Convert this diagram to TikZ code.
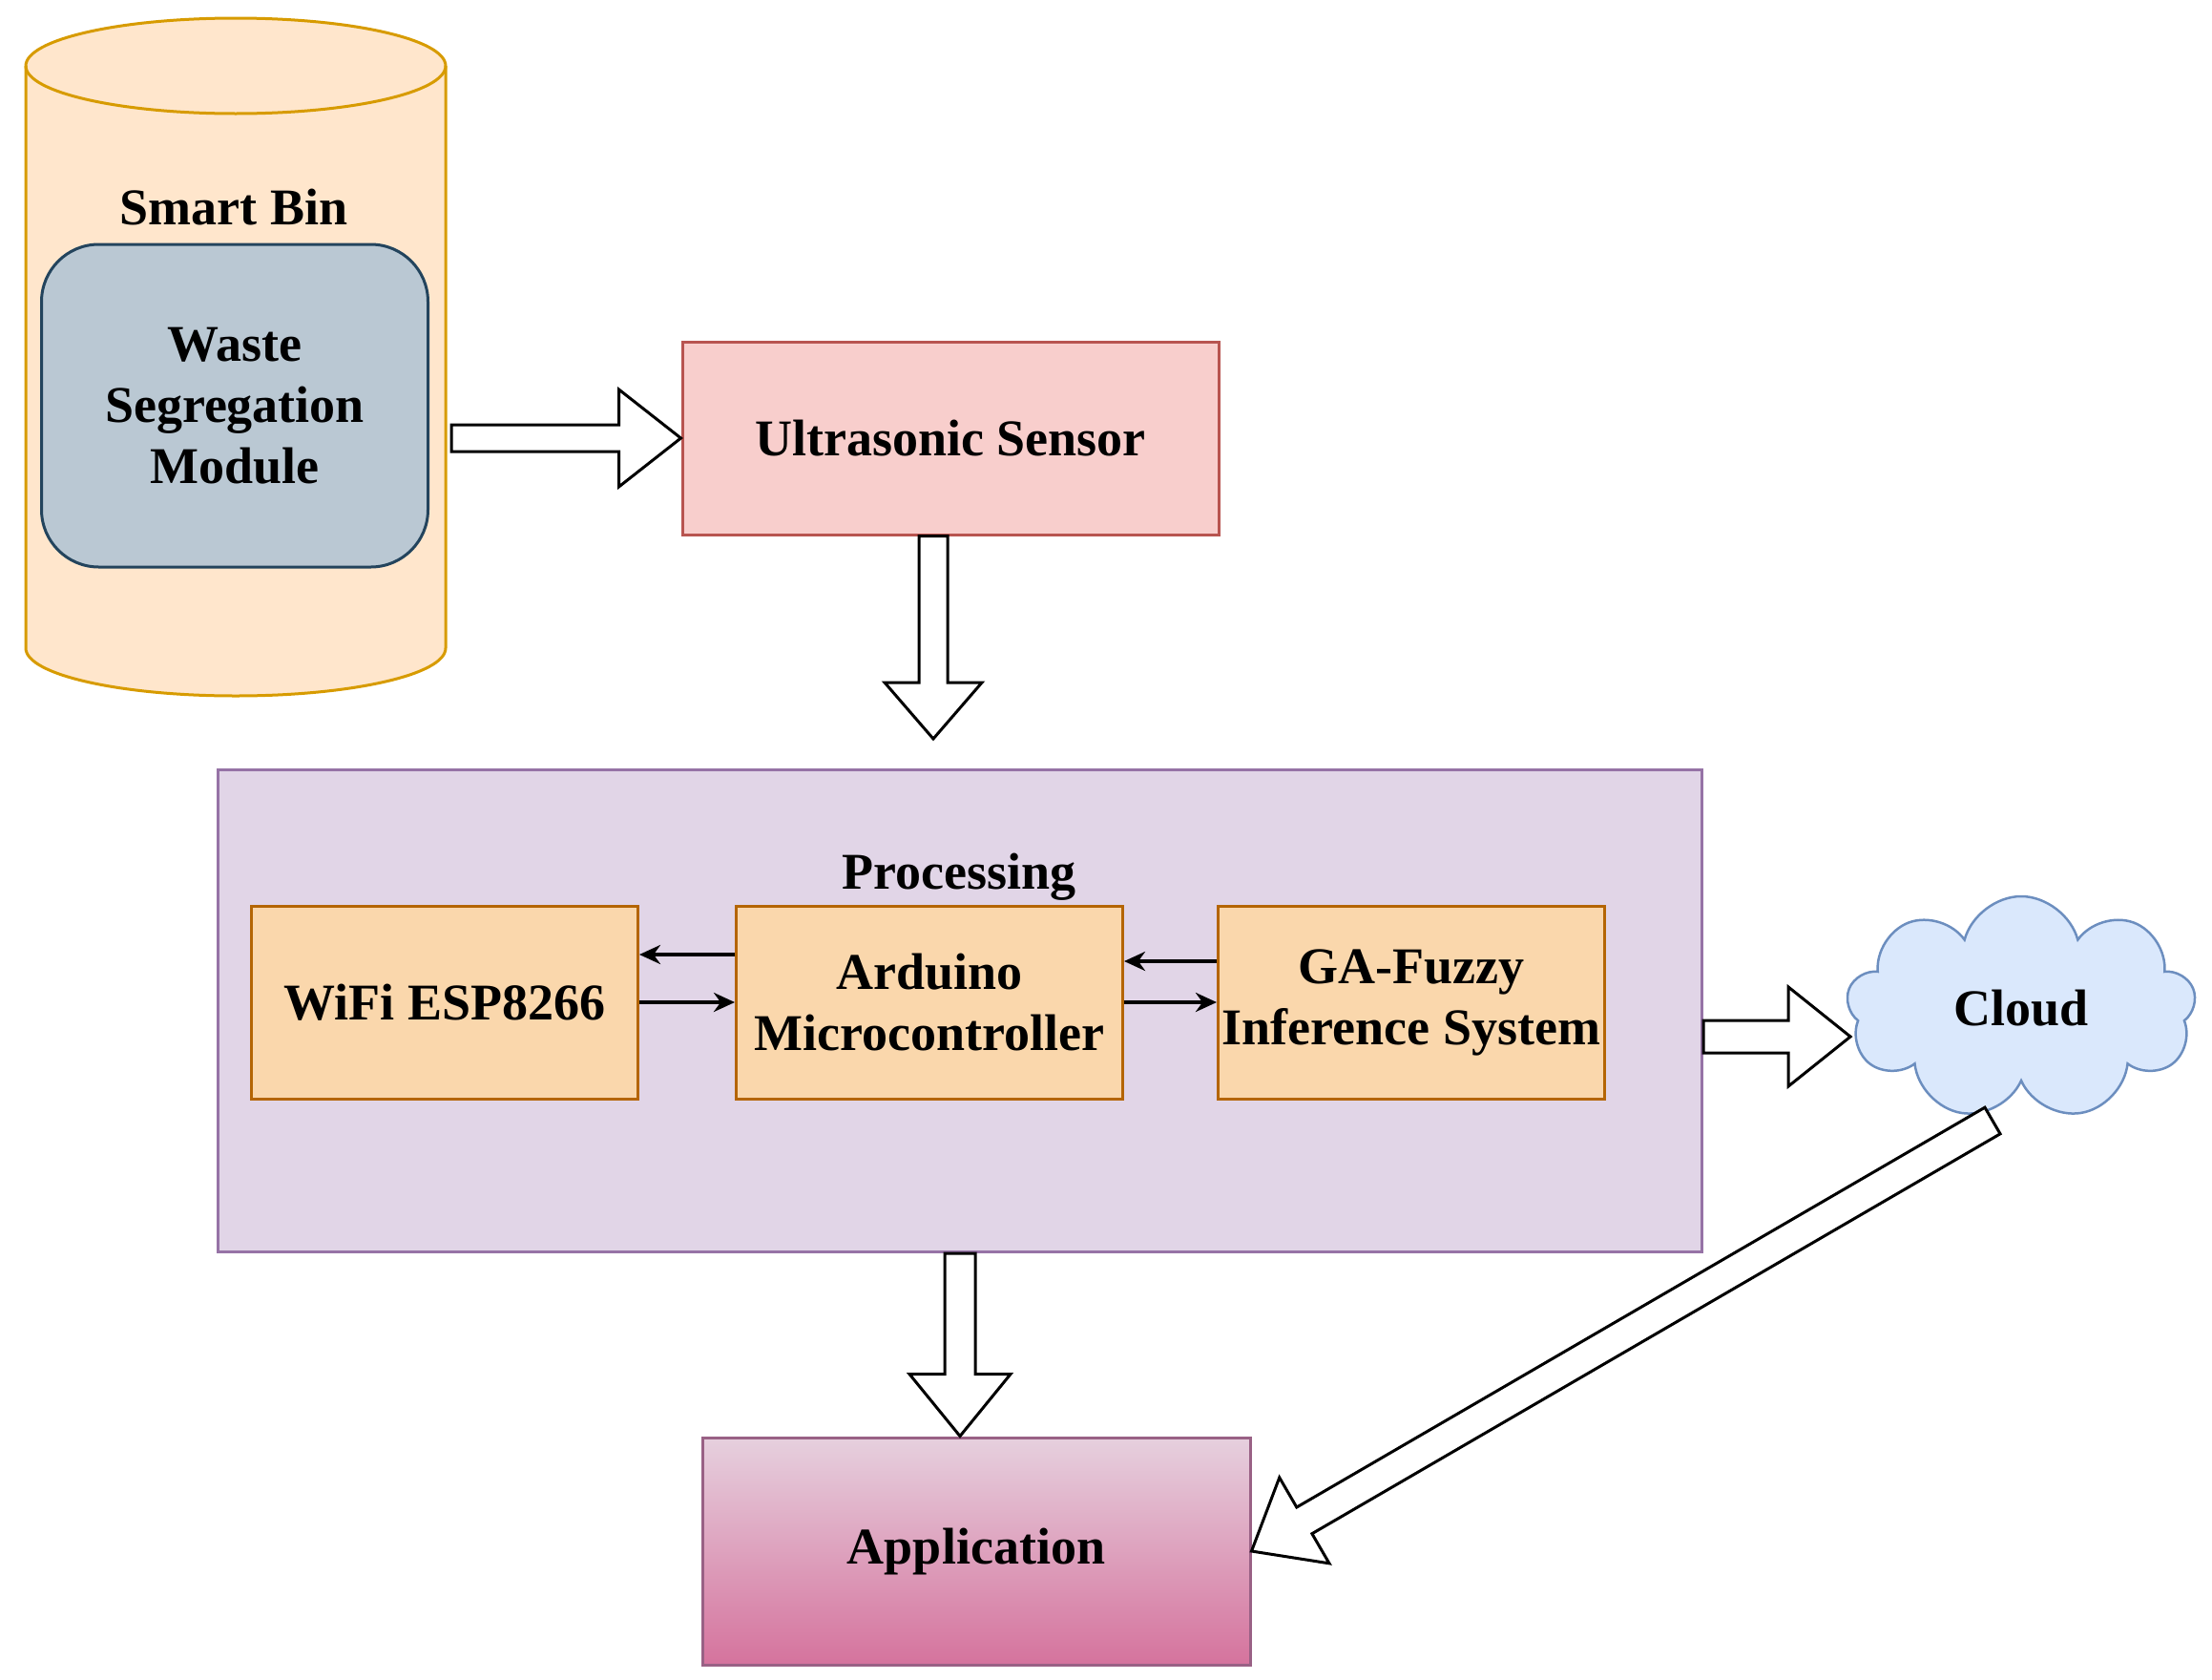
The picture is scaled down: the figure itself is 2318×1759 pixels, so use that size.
\documentclass[tikz,border=0pt]{standalone}
\usepackage{fontspec}
\setmainfont{Liberation Serif}
\usetikzlibrary{shapes, shapes.geometric, shapes.symbols, arrows.meta, positioning, calc}

\definecolor{binfill}{HTML}{FFE6CC}
\definecolor{bindraw}{HTML}{D79B00}
\definecolor{wastefill}{HTML}{BAC8D3}
\definecolor{wastedraw}{HTML}{23445D}
\definecolor{ultrafill}{HTML}{F8CECC}
\definecolor{ultradraw}{HTML}{B85450}
\definecolor{procfill}{HTML}{E1D5E7}
\definecolor{procdraw}{HTML}{9673A6}
\definecolor{unitfill}{HTML}{FAD7AC}
\definecolor{unitdraw}{HTML}{B46504}
\definecolor{cloudfill}{HTML}{DAE8FC}
\definecolor{clouddraw}{HTML}{6C8EBF}
\definecolor{apptop}{HTML}{E6D0DE}
\definecolor{appbottom}{HTML}{D5739D}
\definecolor{appdraw}{HTML}{996185}

% hollow block arrow: from, to, half shaft, half head, head length
\newcommand{\fatarrow}[5]{%
  \coordinate (fa) at ($(#2)!#5!(#1)$);
  \draw[hollow] ($(#1)!#3!90:(#2)$) -- ($(fa)!#3!90:(#2)$) -- ($(fa)!#4!90:(#2)$) -- (#2)
    -- ($(fa)!#4!-90:(#2)$) -- ($(fa)!#3!-90:(#2)$) -- ($(#1)!#3!-90:(#2)$) -- cycle;
}

\begin{document}
\begin{tikzpicture}[x=1pt, y=-1pt,
  every node/.style={font=\fontsize{54}{64}\selectfont\bfseries, align=center, inner sep=0pt},
  block/.style={draw, line width=3pt},
  unit/.style={block, fill=unitfill, draw=unitdraw, minimum width=405pt, minimum height=202pt},
  hollow/.style={draw=black, fill=white, line width=3pt, line join=miter},
  link/.style={-{Stealth[length=22pt, width=20pt]}, line width=4pt}]

  \useasboundingbox (0,0) rectangle (2318,1759);

  % smart bin
  \filldraw[fill=binfill, draw=bindraw, line width=3pt] (27,69) -- (27,679)
    arc[start angle=180, end angle=0, x radius=220, y radius=50] -- (467,69)
    arc[start angle=0, end angle=-180, x radius=220, y radius=50] -- cycle;
  \draw[draw=bindraw, line width=3pt] (27,69) arc[start angle=180, end angle=0, x radius=220, y radius=50];
  \node (bin) at (245,217) {Smart Bin};
  \node[block, fill=wastefill, draw=wastedraw, rounded corners=60pt, minimum width=405pt, minimum height=338pt]
    (waste) at (246,425) {Waste\\Segregation\\Module};
  \coordinate (binout) at (473,459);

  \node[block, fill=ultrafill, draw=ultradraw, minimum width=562pt, minimum height=202pt]
    (ultra) at (996,459) {Ultrasonic Sensor};

  \node[block, fill=procfill, draw=procdraw, minimum width=1555pt, minimum height=505pt]
    (proc) at (1006,1059) {};
  \node[unit] (wifi) at (466,1050) {WiFi ESP8266};
  \node[unit, right=100pt of wifi] (arduino) {Arduino\\Microcontroller};
  \node[unit, right=97pt of arduino] (fuzzy) {GA-Fuzzy\\Inference System};
  \node (proclabel) at (1005,919) {Processing};

  \node[cloud, cloud puffs=9, aspect=1.6, draw=clouddraw, fill=cloudfill, line width=2.5pt,
    minimum width=366pt, minimum height=234pt] (cloud) at (2118,1056) {Cloud};

  \node[block, top color=apptop, bottom color=appbottom, draw=appdraw, minimum width=574pt, minimum height=238pt]
    (app) at (1023,1625) {Application};

  \draw[link] ([yshift=50pt]arduino.west) -- ([yshift=50pt]wifi.east);
  \draw[link] (wifi.east) -- (arduino.west);
  \draw[link] ([yshift=43pt]fuzzy.west) -- ([yshift=43pt]arduino.east);
  \draw[link] (arduino.east) -- (fuzzy.west);

  \coordinate (ultraout) at ([xshift=-18pt]ultra.south);
  \coordinate (procin) at ([yshift=31pt]ultraout |- proc.north);
  \coordinate (procout) at ([yshift=-27pt]proc.east);
  \coordinate (cloudin) at ([xshift=3pt]procout -| cloud.west);
  \coordinate (appin) at (proc.south |- app.north);
  \coordinate (cloudout) at ([shift={(-30pt,-118pt)}]cloud.center);

  \fatarrow{binout}{ultra.west}{14pt}{51pt}{65pt}
  \fatarrow{ultraout}{procin}{15pt}{51pt}{59pt}
  \fatarrow{procout}{cloudin}{17pt}{52pt}{65pt}
  \fatarrow{proc.south}{appin}{16pt}{53pt}{65pt}
  \fatarrow{cloudout}{app.east}{16pt}{52pt}{64pt}
\end{tikzpicture}
\end{document}
